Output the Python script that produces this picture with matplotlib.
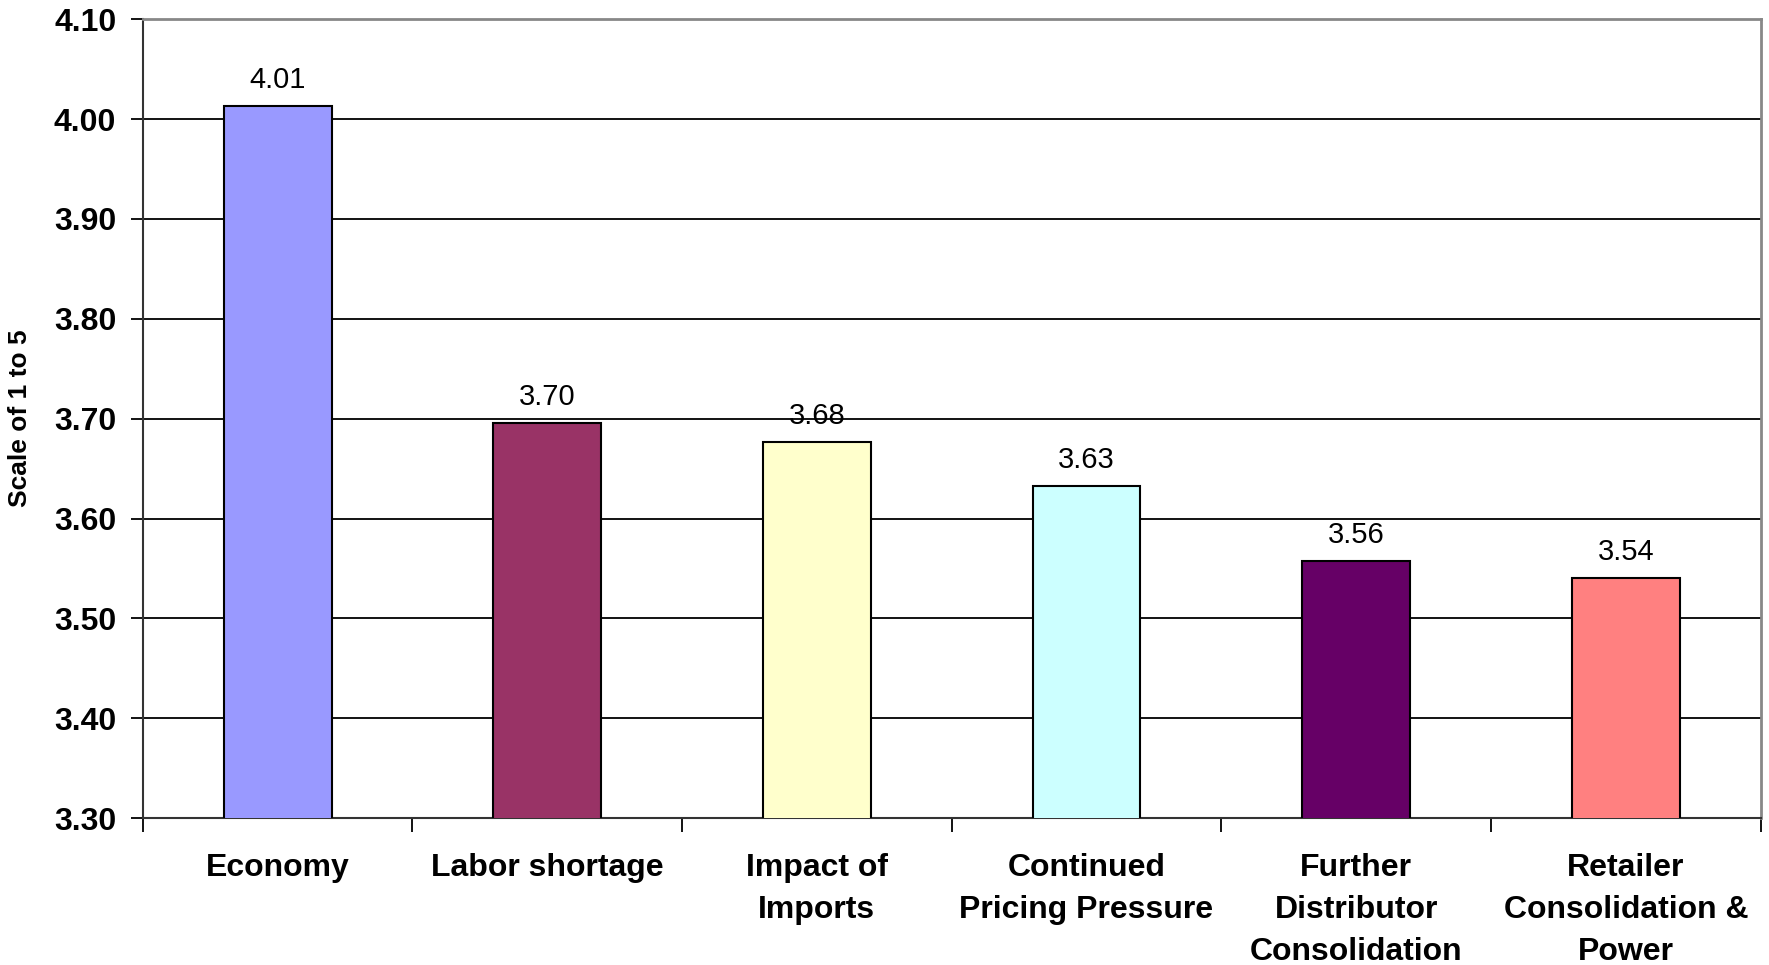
import numpy as np
import matplotlib.pyplot as plt
from matplotlib.ticker import MultipleLocator, FixedLocator

plt.rcParams['font.family'] = ['Liberation Sans', 'DejaVu Sans']

categories = ['Economy', 'Labor shortage', 'Impact of\nImports', 'Continued\nPricing Pressure',
              'Further\nDistributor\nConsolidation', 'Retailer\nConsolidation &\nPower']
values = [4.013, 3.696, 3.677, 3.633, 3.557, 3.540]
colors = ['#9999FF', '#993366', '#FFFFCC', '#CCFFFF', '#660066', '#FF8080']

fig = plt.figure(figsize=(17.69, 9.65), dpi=100)
ax = fig.add_axes([0.0807, 0.1523, 0.9146, 0.8277])

x = np.arange(len(categories))
bars = ax.bar(x, values, width=0.40, color=colors, edgecolor='black', linewidth=1.5, zorder=3)

for xi, v in zip(x, values):
    ax.text(xi, v + 0.012, f'{v:.2f}', ha='center', va='bottom', fontsize=21, zorder=4)

ax.set_xlim(-0.5, len(categories) - 0.5)
ax.set_ylim(3.30, 4.10)
ax.yaxis.set_major_locator(MultipleLocator(0.1))
ax.set_yticklabels([f'{t:.2f}' for t in ax.get_yticks()], fontsize=23, fontweight='bold')
ax.yaxis.grid(True, color='black', linewidth=1.3, zorder=0)
ax.tick_params(axis='y', length=9, width=1.3, pad=10)

ax.set_xticks(x)
ax.set_xticklabels(categories, fontsize=23, fontweight='bold', linespacing=1.52, va='top')
ax.tick_params(axis='x', which='major', length=0, pad=25)
ax.xaxis.set_minor_locator(FixedLocator(np.arange(-0.5, len(categories), 1.0)))
ax.tick_params(axis='x', which='minor', length=10, width=1.3, direction='out')

ax.set_ylabel('Scale of 1 to 5', fontsize=19, fontweight='bold', labelpad=16)

for side in ['top', 'right']:
    ax.spines[side].set_color('#888888')
    ax.spines[side].set_linewidth(2)
for side in ['left', 'bottom']:
    ax.spines[side].set_color('#333333')
    ax.spines[side].set_linewidth(1.5)

fig.savefig('out.png', dpi=100)
